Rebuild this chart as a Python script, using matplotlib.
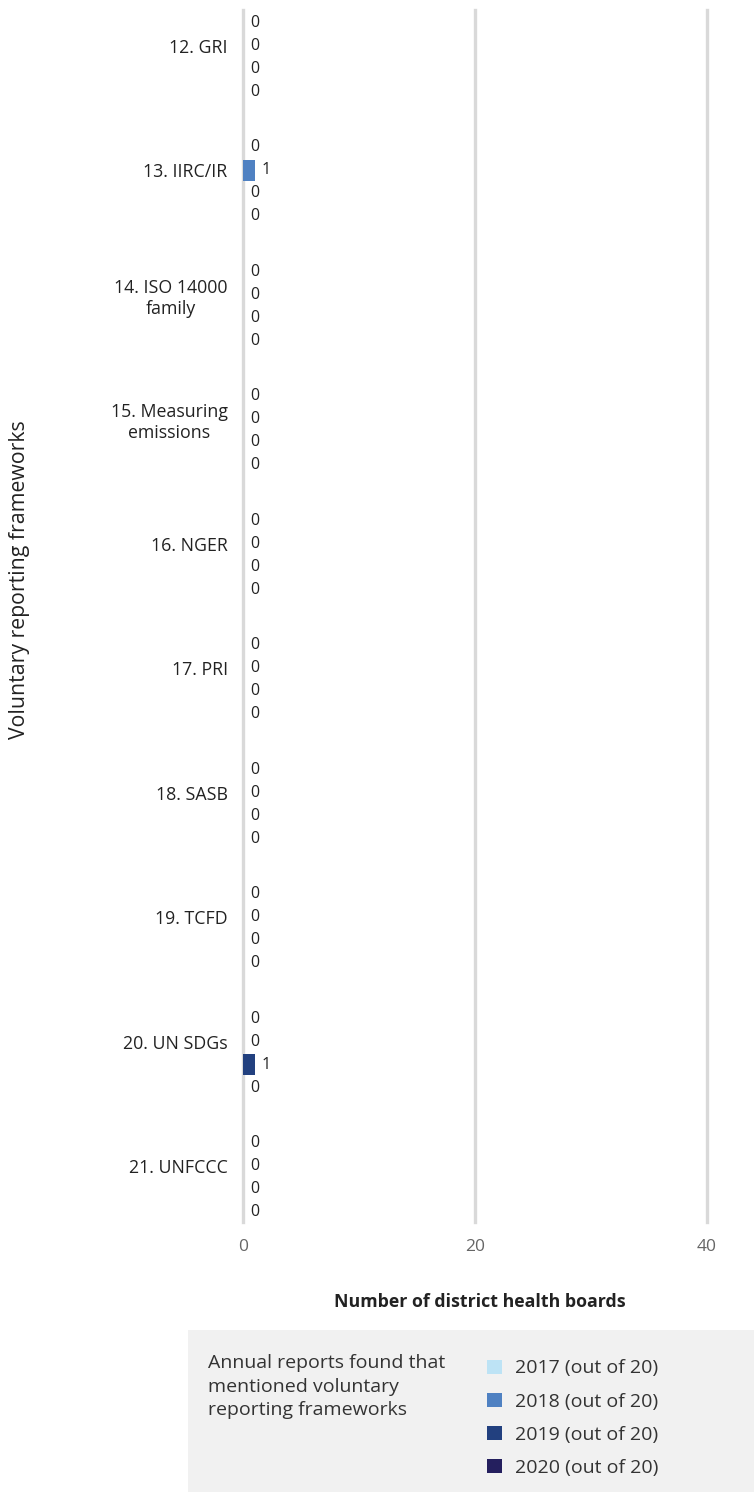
import numpy as np
import matplotlib
matplotlib.use('Agg')
import matplotlib.pyplot as plt
from matplotlib.patches import Rectangle

plt.rcParams['font.family'] = ['Open Sans', 'DejaVu Sans']

categories = ['12. GRI', '13. IIRC/IR', '14. ISO 14000\nfamily', '15. Measuring\nemissions',
              '16. NGER', '17. PRI', '18. SASB', '19. TCFD', '20. UN SDGs', '21. UNFCCC']
years = ['2017 (out of 20)', '2018 (out of 20)', '2019 (out of 20)', '2020 (out of 20)']
colors = ['#bde3f5', '#4f81c2', '#22407f', '#241f5e']
v2017 = [0, 0, 0, 0, 0, 0, 0, 0, 0, 0]
v2018 = [0, 1, 0, 0, 0, 0, 0, 0, 0, 0]
v2019 = [0, 0, 0, 0, 0, 0, 0, 0, 1, 0]
v2020 = [0, 0, 0, 0, 0, 0, 0, 0, 0, 0]
series = [v2017, v2018, v2019, v2020]
xticks = [0, 20, 40]

W, H = 754, 1492
fig = plt.figure(figsize=(W / 100, H / 100), dpi=100)
ax = fig.add_axes([243 / W, 1 - 1222 / H, (W - 243) / W, (1222 - 10) / H])

y = np.arange(len(categories))
step = 0.1847
bh = 0.169
bars = []
for i, (vals, c) in enumerate(zip(series, colors)):
    pos = y + (i - 1.5) * step
    b = ax.barh(pos, vals, height=bh, color=c, label=years[i], zorder=3)
    bars.append(b)
    for p, v in zip(pos, vals):
        ax.text(v + 0.6, p, str(v), va='center', ha='left', fontsize=11.5, color='#222222')

ax.set_xlim(0, 44.05)
ax.set_ylim(9.357, -0.378)
# labels sit a little above the group centre, as in the source
ax.set_yticks(y - 0.09)
ax.set_yticklabels(categories, fontsize=12.8, color='#222222', multialignment='center')
ax.set_xticks(xticks)
ax.set_xticklabels([str(t) for t in xticks], fontsize=12.5, color='#666666')
ax.tick_params(axis='both', length=0)
ax.tick_params(axis='y', pad=11)
ax.tick_params(axis='x', pad=12)
ax.grid(axis='x', color='#d9d9d9', linewidth=2.4, zorder=0)
for gl in ax.get_xgridlines():
    gl.set_clip_on(False)
for s in ax.spines.values():
    s.set_visible(False)

fig.text(20 / W, 1 - 580 / H, 'Voluntary reporting frameworks', rotation=90,
         ha='center', va='center', fontsize=15.3, color='#222222')
fig.text(480 / W, 1 - 1302 / H, 'Number of district health boards', ha='center',
         va='center', fontsize=12.8, fontweight='bold', color='#222222')

# legend panel
fig.patches.append(Rectangle((188 / W, 0), (W - 188) / W, (1492 - 1330) / H,
                             transform=fig.transFigure, facecolor='#f1f1f1',
                             edgecolor='none', zorder=0))
fig.text(208 / W, 1 - 1354 / H, 'Annual reports found that\nmentioned voluntary\nreporting frameworks',
         ha='left', va='top', fontsize=14, color='#333333', linespacing=1.4)
fig.legend(handles=bars, labels=years, loc='upper left',
           bbox_to_anchor=(470 / W, 1 - 1342 / H), frameon=False,
           fontsize=14, handlelength=0.75, handleheight=0.75,
           handletextpad=0.65, labelspacing=0.78, labelcolor='#333333')

fig.savefig('out.png', dpi=100)
